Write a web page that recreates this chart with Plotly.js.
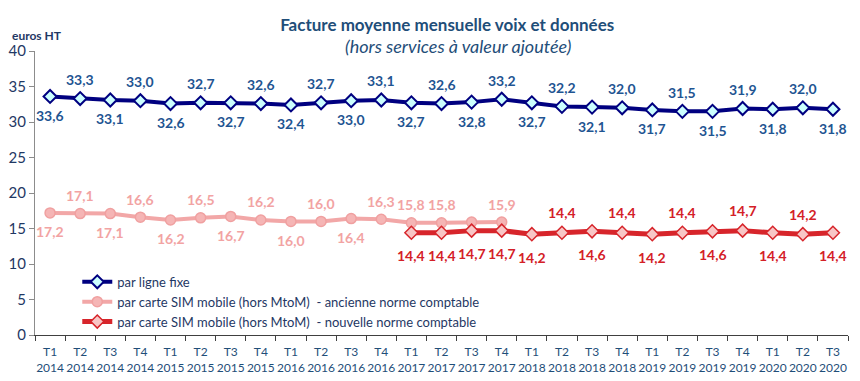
<!DOCTYPE html>
<html>
<head>
<meta charset="utf-8">
<script src="https://cdn.plot.ly/plotly-3.0.1.min.js"></script>
<style>html,body{margin:0;padding:0;background:#fff;}#chart{width:860px;height:381px;}</style>
</head>
<body>
<div id="chart"></div>
<script>
// ---- Data ----
const quarters = ["T1","T2","T3","T4","T1","T2","T3","T4","T1","T2","T3","T4","T1","T2","T3","T4","T1","T2","T3","T4","T1","T2","T3","T4","T1","T2","T3"];
const years = ["2014","2014","2014","2014","2015","2015","2015","2015","2016","2016","2016","2016","2017","2017","2017","2017","2018","2018","2018","2018","2019","2019","2019","2019","2020","2020","2020"];
const categories = quarters.map((q, i) => q + "<br>" + years[i]);

const fixe = [33.6,33.3,33.1,33.0,32.6,32.7,32.7,32.6,32.4,32.7,33.0,33.1,32.7,32.6,32.8,33.2,32.7,32.2,32.1,32.0,31.7,31.5,31.5,31.9,31.8,32.0,31.8];
const fixeSide = ["b","t","b","t","b","t","b","t","b","t","b","t","b","t","b","t","b","t","b","t","b","t","b","t","b","t","b"];

const ancienne = [17.2,17.1,17.1,16.6,16.2,16.5,16.7,16.2,16.0,16.0,16.4,16.3,15.8,15.8,15.9,15.9];
const ancienneSide = ["b","t","b","t","b","t","b","t","b","t","b","t","t","t","","t"];

const nouvelleStart = 12;
const nouvelle = [14.4,14.4,14.7,14.7,14.2,14.4,14.6,14.4,14.2,14.4,14.6,14.7,14.4,14.2,14.4];
const nouvelleSide = ["b","b","b","b","b","t","b","t","b","t","b","t","b","t","b"];

const names = ["par ligne fixe",
  "par carte SIM mobile (hors MtoM)  - ancienne norme comptable",
  "par carte SIM mobile (hors MtoM)  - nouvelle norme comptable"];

// ---- Styles ----
const FONT = "Lato, 'Open Sans', sans-serif";
const navy = "#000080", pinkLine = "#f2a7a7", red = "#d7252b";
const labelCol = ["#1f5592", "#f2a3a3", "#d42027"];

const xNew = categories.slice(nouvelleStart, nouvelleStart + nouvelle.length);
const xOld = categories.slice(0, ancienne.length);

const traces = [
  {x: categories, y: fixe, name: names[0], type: "scatter", mode: "lines+markers",
   line: {color: navy, width: 4}, marker: {symbol: "diamond", size: 10, color: "#ccffff", line: {color: navy, width: 2}}},
  {x: xOld, y: ancienne, name: names[1], type: "scatter", mode: "lines+markers",
   line: {color: pinkLine, width: 4}, marker: {symbol: "circle", size: 10, color: "#f5b5b5", line: {color: "#f0a0a0", width: 1.5}}},
  {x: xNew, y: nouvelle, name: names[2], type: "scatter", mode: "lines+markers",
   line: {color: red, width: 5}, marker: {symbol: "diamond", size: 10, color: "#f8c6c6", line: {color: red, width: 1.5}}}
];

const fmt = v => v.toFixed(1).replace(".", ",");
const annotations = [];
function addLabels(xs, ys, sides, col, up, down) {
  ys.forEach((v, i) => {
    if (!sides[i]) return;
    annotations.push({x: xs[i], y: v, xref: "x", yref: "y", text: fmt(v), showarrow: false,
      yshift: sides[i] === "t" ? up : -down,
      font: {family: FONT, size: 14, color: col, weight: "bold"}});
  });
}
addLabels(categories, fixe, fixeSide, labelCol[0], 19, 19);
addLabels(xOld, ancienne, ancienneSide, labelCol[1], 18, 19);
addLabels(xNew, nouvelle, nouvelleSide, labelCol[2], 20, 23);

annotations.push({xref: "paper", yref: "paper", x: 0.52, y: 1.0, yshift: 5, xanchor: "center", yanchor: "middle",
  text: "<i>(hors services à valeur ajoutée)</i>", showarrow: false,
  font: {family: FONT, size: 18, color: "#1f4e79"}});
annotations.push({xref: "paper", yref: "paper", x: -0.031, y: 1.0, yshift: 16, xanchor: "left", yanchor: "middle",
  text: "<b>euros HT</b>", showarrow: false, font: {family: FONT, size: 12, color: "#1f3864"}});

const layout = {
  width: 860, height: 381,
  margin: {l: 35, r: 12, t: 51, b: 46},
  paper_bgcolor: "#fff", plot_bgcolor: "#fff",
  font: {family: FONT, color: "#1f3864"},
  title: {text: "<b>Facture moyenne mensuelle voix et données</b>", x: 0.52, xanchor: "center", y: 0.935, yanchor: "middle",
    font: {family: FONT, size: 17, color: "#1f4e79"}},
  showlegend: true,
  legend: {x: 0.052, y: 0.24, xanchor: "left", yanchor: "top", bgcolor: "rgba(0,0,0,0)",
    font: {family: FONT, size: 13, color: "#1f3864"}, tracegroupgap: 0},
  xaxis: {type: "category", range: [-0.5, 26.5], showgrid: false, zeroline: false,
    showline: true, linecolor: "#404040", linewidth: 1, ticks: "outside", tickson: "boundaries",
    ticklen: 5, tickcolor: "#404040", tickangle: 0, ticklabelstandoff: 6,
    tickfont: {family: FONT, size: 12, color: "#1f4e79"}},
  yaxis: {range: [0, 40], dtick: 5, showgrid: false, zeroline: false,
    showline: true, linecolor: "#8c8c8c", linewidth: 1, ticks: "outside", ticklen: 5, tickcolor: "#8c8c8c",
    tickfont: {family: FONT, size: 15, color: "#1f3864"}},
  annotations: annotations
};

Plotly.newPlot("chart", traces, layout, {displayModeBar: false, staticPlot: true});
</script>
</body>
</html>
